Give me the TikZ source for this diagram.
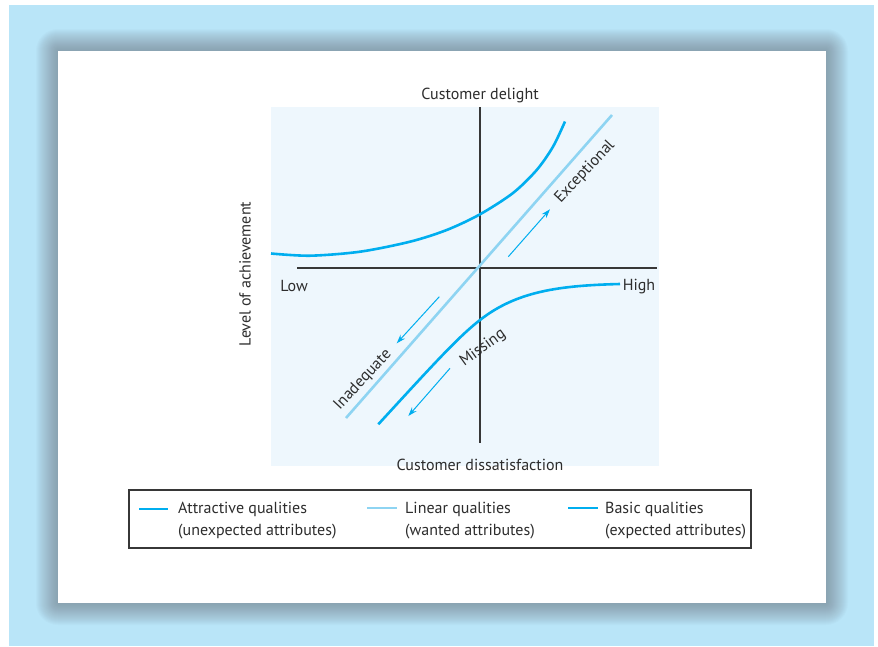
\documentclass[tikz,border=0pt]{standalone}
\usepackage{fontspec}
\setmainfont{PT Sans}
\usepackage{tikz}
\usetikzlibrary{arrows.meta}

\definecolor{panelblue}{RGB}{185,229,248}
\definecolor{plotbg}{RGB}{238,247,253}
\definecolor{qcyan}{RGB}{0,174,239}
\definecolor{qlight}{RGB}{142,212,242}
\definecolor{axisgray}{RGB}{55,55,55}
\definecolor{txtgray}{RGB}{45,45,45}
\definecolor{shadowc}{RGB}{110,115,125}

\tikzset{
  attr/.style={line width=2.6pt, qcyan},
  lin/.style={line width=2.6pt, qlight},
  basic/.style={line width=2.6pt, qcyan},
  hint/.style={line width=1pt, qcyan, -{Stealth[length=9pt,width=6pt]}},
  lab/.style={text=txtgray, font=\fontsize{16}{22}\selectfont, inner sep=0pt},
}

\begin{document}
\begin{tikzpicture}[x=1pt,y=-1pt]
    \useasboundingbox (0,0) rectangle (878,646);
    \fill[panelblue] (9,5) rectangle (874,646);
    % soft shadow round the card
    \foreach \s in {1,...,22}
      \fill[shadowc, opacity=0.032, rounded corners=\s pt]
        ({58-\s},{51-\s}) rectangle ({826+\s},{603+\s});
    \fill[white] (58,51) rectangle (826,603);

    \fill[plotbg] (271,107) rectangle (659,466);
    \draw[axisgray, line width=1.3pt] (297,268) -- (657,268);
    \draw[axisgray, line width=1.3pt] (480,107) -- (480,443);

    \node[lab] (top) at (480,95) {Customer delight};
    \node[lab] (bottom) at (480,465) {Customer dissatisfaction};
    \node[lab] (low) at (294,286) {Low};
    \node[lab] (high) at (639,287) {High};
    \node[lab, rotate=90] (level) at (245,274) {Level of achievement};

    \draw[lin] (346,418) -- (612,115);
    \draw[attr] plot[smooth] coordinates {(271,253.5) (310,255.7) (360,251.7)
      (410,241.7) (446.7,230) (480,214.3) (513,193) (536.7,170) (553,146.7)
      (565,121.5)};
    \draw[basic] (378.3,424.3) .. controls (430,368) and (458,337) .. (480,320)
      .. controls (517,291) and (560,285.5) .. (620,284);

    \draw[hint] (508.3,256.7) -- (550,209.3);
    \draw[hint] (439.3,296.7) -- (396.7,343.3);
    \draw[hint] (450,368.3) -- (408.3,416);

    \node[lab, rotate=47] (exc) at (585,172) {Exceptional};
    \node[lab, rotate=47] (inad) at (363,380) {Inadequate};
    \node[lab, rotate=36] (miss) at (483,348) {Missing};

    % legend
    \draw[axisgray, line width=1.2pt] (129,490) rectangle (751,548);
    \draw[attr] (139,509) -- (168,509);
    \draw[lin] (367,508) -- (397,508);
    \draw[basic] (568,508) -- (598,508);
    \node[lab, anchor=west, align=left] (attleg) at (178,521)
      {Attractive qualities\\(unexpected attributes)};
    \node[lab, anchor=west, align=left] (linleg) at (405,521)
      {Linear qualities\\(wanted attributes)};
    \node[lab, anchor=west, align=left] (basleg) at (605,521)
      {Basic qualities\\(expected attributes)};
\end{tikzpicture}
\end{document}
